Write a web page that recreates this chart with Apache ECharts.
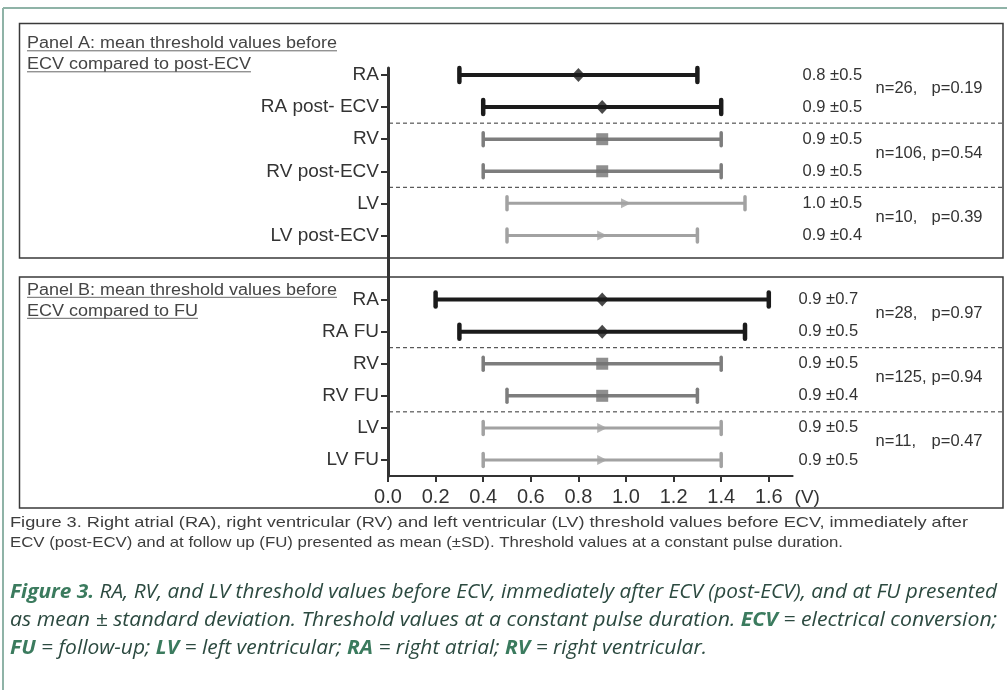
<!DOCTYPE html>
<html><head><meta charset="utf-8">
<script src="https://cdn.jsdelivr.net/npm/echarts@6/dist/echarts.min.js"></script>
<style>html,body{margin:0;padding:0;background:#fff}#chart{width:1007px;height:690px}</style>
</head><body><div id="chart"></div>
<script>
// ---------- data ----------
const rowLabels = ['RA','RA post- ECV','RV','RV post-ECV','LV','LV post-ECV','','RA','RA FU','RV','RV FU','LV','LV FU'];
const rowGroups = ['RA','RA','RV','RV','LV','LV','','RA','RA','RV','RV','LV','LV'];
const meanValues = [0.8,0.9,0.9,0.9,1.0,0.9,null,0.9,0.9,0.9,0.9,0.9,0.9];
const lowValues  = [0.3,0.4,0.4,0.4,0.5,0.5,null,0.2,0.3,0.4,0.5,0.4,0.4];
const highValues = [1.3,1.4,1.4,1.4,1.5,1.3,null,1.6,1.5,1.4,1.3,1.4,1.4];
const sdLabels = ['0.8 ±0.5','0.9 ±0.5','0.9 ±0.5','0.9 ±0.5','1.0 ±0.5','0.9 ±0.4','','0.9 ±0.7','0.9 ±0.5','0.9 ±0.5','0.9 ±0.4','0.9 ±0.5','0.9 ±0.5'];
const pairFirstRows = [0,2,4,7,9,11];
const pairN = ['n=26,','n=106,','n=10,','n=28,','n=125,','n=11,'];
const pairP = ['p=0.19','p=0.54','p=0.39','p=0.97','p=0.94','p=0.47'];
const separatorAfterRows = [1,3,8,10];
const xTickValues = [0,0.2,0.4,0.6,0.8,1.0,1.2,1.4,1.6];
const xAxisMax = 1.7;
const xAxisUnit = '(V)';
const panelTitles = [
  ['Panel A: mean threshold values before','ECV compared to post-ECV'],
  ['Panel B: mean threshold values before','ECV compared to FU']
];
const figureCaption = [
  'Figure 3. Right atrial (RA), right ventricular (RV) and left ventricular (LV) threshold values before ECV, immediately after',
  'ECV (post-ECV) and at follow up (FU) presented as mean (±SD). Threshold values at a constant pulse duration.'
];
const journalCaption = [
  [['b','Figure 3.'],['n',' RA, RV, and LV threshold values before ECV, immediately after ECV (post-ECV), and at FU presented']],
  [['n','as mean ± standard deviation. Threshold values at a constant pulse duration. '],['b','ECV'],['n',' = electrical conversion;']],
  [['b','FU'],['n',' = follow-up; '],['b','LV'],['n',' = left ventricular; '],['b','RA'],['n',' = right atrial; '],['b','RV'],['n',' = right ventricular.']]
];

// ---------- styles ----------
const groupStyle = {
  RA: {color:'#1b1b1b', width:4, capWidth:4.5, capLen:14, symbol:'diamond', size:[13,14], rotate:0, mark:'#1b1b1b'},
  RV: {color:'#7d7d7d', width:3.5, capWidth:3.5, capLen:13, symbol:'rect', size:[12,12], rotate:0, mark:'#737373'},
  LV: {color:'#a2a2a2', width:3, capWidth:3.5, capLen:13, symbol:'triangle', size:[10,10], rotate:-90, mark:'#a2a2a2'}
};
const SANS = "'Liberation Sans', Arial, sans-serif";
const panelRight = 1003;

const mctx = document.createElement('canvas').getContext('2d');
function measure(font, text){ mctx.font = font; return mctx.measureText(text).width; }

// ---------- series data ----------
const barData = [], meanData = [];
rowLabels.forEach((lab, i) => {
  if (meanValues[i] == null) return;
  barData.push([lowValues[i], highValues[i], i]);
  const st = groupStyle[rowGroups[i]];
  meanData.push({value:[meanValues[i], i], symbol:st.symbol, symbolSize:st.size, symbolRotate:st.rotate, itemStyle:{color:st.mark}});
});

// ---------- graphics ----------
const graphics = [];
graphics.push({type:'line', shape:{x1:3, y1:8, x2:1007, y2:8}, style:{stroke:'#8fb3a7', lineWidth:2}});
graphics.push({type:'line', shape:{x1:3, y1:8, x2:3, y2:690}, style:{stroke:'#8fb3a7', lineWidth:2}});
graphics.push({type:'rect', shape:{x:19.5, y:23.5, width:panelRight-19.5, height:234.5}, style:{fill:'none', stroke:'#3a3a3a', lineWidth:1.5}});
graphics.push({type:'rect', shape:{x:19.5, y:277, width:panelRight-19.5, height:231}, style:{fill:'none', stroke:'#3a3a3a', lineWidth:1.5}});
const titleFont = '16px ' + SANS;
const titleScale = 310 / measure(titleFont, panelTitles[0][0]);
const titleY = [[44, 65], [290.5, 311.5]];
panelTitles.forEach((lines, p) => {
  lines.forEach((t, k) => {
    const y = titleY[p][k];
    const w = measure(titleFont, t) * titleScale;
    graphics.push({type:'text', x:27, y:y, scaleX:titleScale, style:{text:t, x:0, y:0, fontSize:16, fontFamily:SANS, fill:'#444', verticalAlign:'middle', align:'left'}});
    graphics.push({type:'line', shape:{x1:27, y1:y+6.8, x2:27+w, y2:y+6.8}, style:{stroke:'#666', lineWidth:1}});
  });
});
const capFont = '15px ' + SANS;
const capTargets = [958, 833];
const capY = [523, 543];
figureCaption.forEach((t, k) => {
  const s = capTargets[k] / measure(capFont, t);
  graphics.push({type:'text', x:10, y:capY[k], scaleX:s, style:{text:t, x:0, y:0, fontSize:15, fontFamily:SANS, fill:'#3d3d3d', verticalAlign:'middle'}});
});
const JF = "'Open Sans', 'Noto Sans', sans-serif";
const jTargets = [987, 987, 697];
const jY = [592, 620, 648];
const richStyles = {
  n: {fontSize:20, fontFamily:JF, fontStyle:'italic', fontWeight:'normal', fill:'#2c4a40'},
  b: {fontSize:20, fontFamily:JF, fontStyle:'italic', fontWeight:'bold', fill:'#3b7b5e'}
};
journalCaption.forEach((segs, k) => {
  let w = 0;
  segs.forEach(([c, t]) => { w += measure('italic ' + (c === 'b' ? 'bold ' : '') + "20px " + JF, t); });
  const s = jTargets[k] / w;
  const txt = segs.map(([c, t]) => '{' + c + '|' + t + '}').join('');
  graphics.push({type:'text', x:10, y:jY[k], scaleX:s, style:{text:txt, x:0, y:0, rich:richStyles, verticalAlign:'middle', fontSize:20, fontFamily:JF, fill:'#2c4a40'}});
});

// ---------- chart ----------
const chart = echarts.init(document.getElementById('chart'), null, {renderer:'canvas'});
const option = {
  animation:false,
  backgroundColor:'#fff',
  grid:[
    {left:388, right:214.4, top:59, bottom:214, containLabel:false},
    {left:388, right:214.4, top:68, bottom:214, containLabel:false}
  ],
  xAxis:[
    {type:'value', gridIndex:0, min:0, max:xAxisMax,
     axisLine:{show:true, onZero:false, lineStyle:{color:'#333', width:2}},
     axisTick:{show:true, length:6, customValues:xTickValues, lineStyle:{color:'#333', width:2}},
     axisLabel:{customValues:xTickValues, margin:11, fontSize:20, fontFamily:SANS, color:'#333', formatter:v => v.toFixed(1)},
     splitLine:{show:false},
     name:xAxisUnit, nameLocation:'end', nameGap:2,
     nameTextStyle:{fontSize:19, fontFamily:SANS, color:'#333', verticalAlign:'top', align:'left', padding:[12,0,0,0]}},
    {type:'value', gridIndex:1, min:0, max:1, show:false}
  ],
  yAxis:[
    {type:'category', gridIndex:0, data:rowLabels, inverse:true,
     axisLine:{show:false},
     axisTick:{show:true, alignWithLabel:true, length:7, interval:(i, v) => v !== '', lineStyle:{color:'#333', width:2}},
     axisLabel:{fontSize:19, fontFamily:SANS, color:'#333', margin:9, interval:0},
     splitLine:{show:false}},
    {type:'value', gridIndex:1, min:0, max:1,
     axisLine:{show:true, lineStyle:{color:'#333', width:3}},
     axisTick:{show:false}, axisLabel:{show:false}, splitLine:{show:false}}
  ],
  series:[
    {
      type:'custom', xAxisIndex:0, yAxisIndex:0, clip:false, silent:true,
      data: separatorAfterRows.map(r => [0, r]),
      encode:{x:0, y:1},
      renderItem:(params, api) => {
        const cs = params.coordSys;
        const y = api.coord([0, api.value(1)])[1] + api.size([0, 1])[1] / 2;
        return {type:'line', shape:{x1:cs.x + 1, y1:y, x2:panelRight, y2:y}, style:{stroke:'#333', lineWidth:1, lineDash:[4,3]}};
      }
    },
    {
      type:'custom', xAxisIndex:0, yAxisIndex:0, silent:true,
      data: barData, encode:{x:[0,1], y:2},
      renderItem:(params, api) => {
        const idx = api.value(2);
        const lo = api.coord([api.value(0), idx]);
        const hi = api.coord([api.value(1), idx]);
        const st = groupStyle[rowGroups[idx]];
        const h = st.capLen / 2;
        return {type:'group', children:[
          {type:'line', shape:{x1:lo[0], y1:lo[1], x2:hi[0], y2:hi[1]}, style:{stroke:st.color, lineWidth:st.width}},
          {type:'line', shape:{x1:lo[0], y1:lo[1]-h, x2:lo[0], y2:lo[1]+h}, style:{stroke:st.color, lineWidth:st.capWidth, lineCap:'round'}},
          {type:'line', shape:{x1:hi[0], y1:hi[1]-h, x2:hi[0], y2:hi[1]+h}, style:{stroke:st.color, lineWidth:st.capWidth, lineCap:'round'}}
        ]};
      }
    },
    {
      type:'scatter', xAxisIndex:0, yAxisIndex:0, silent:true, z:5,
      data: meanData
    },
    {
      type:'custom', xAxisIndex:0, yAxisIndex:0, clip:false, silent:true,
      data: sdLabels.map((t, i) => [0, i]).filter(d => sdLabels[d[1]] !== ''),
      encode:{x:0, y:1},
      renderItem:(params, api) => {
        const cs = params.coordSys;
        const i = api.value(1);
        const y = api.coord([0, i])[1];
        return {type:'text', style:{text:sdLabels[i], x:cs.x + cs.width + (i < 6 ? 10 : 6), y:y, fontSize:16.5, fontFamily:SANS, fill:'#333', verticalAlign:'middle', align:'left'}};
      }
    },
    {
      type:'custom', xAxisIndex:0, yAxisIndex:0, clip:false, silent:true,
      data: pairFirstRows.map((r, k) => [0, r, k]),
      encode:{x:0, y:1},
      renderItem:(params, api) => {
        const cs = params.coordSys;
        const k = api.value(2);
        const y = api.coord([0, api.value(1)])[1] + api.size([0, 1])[1] * 0.43;
        const base = cs.x + cs.width;
        return {type:'group', children:[
          {type:'text', style:{text:pairN[k], x:base + 83, y:y, fontSize:16.5, fontFamily:SANS, fill:'#333', verticalAlign:'middle', align:'left'}},
          {type:'text', style:{text:pairP[k], x:base + 139, y:y, fontSize:16.5, fontFamily:SANS, fill:'#333', verticalAlign:'middle', align:'left'}}
        ]};
      }
    }
  ],
  graphic: graphics
};
chart.setOption(option);
</script>
</body></html>
